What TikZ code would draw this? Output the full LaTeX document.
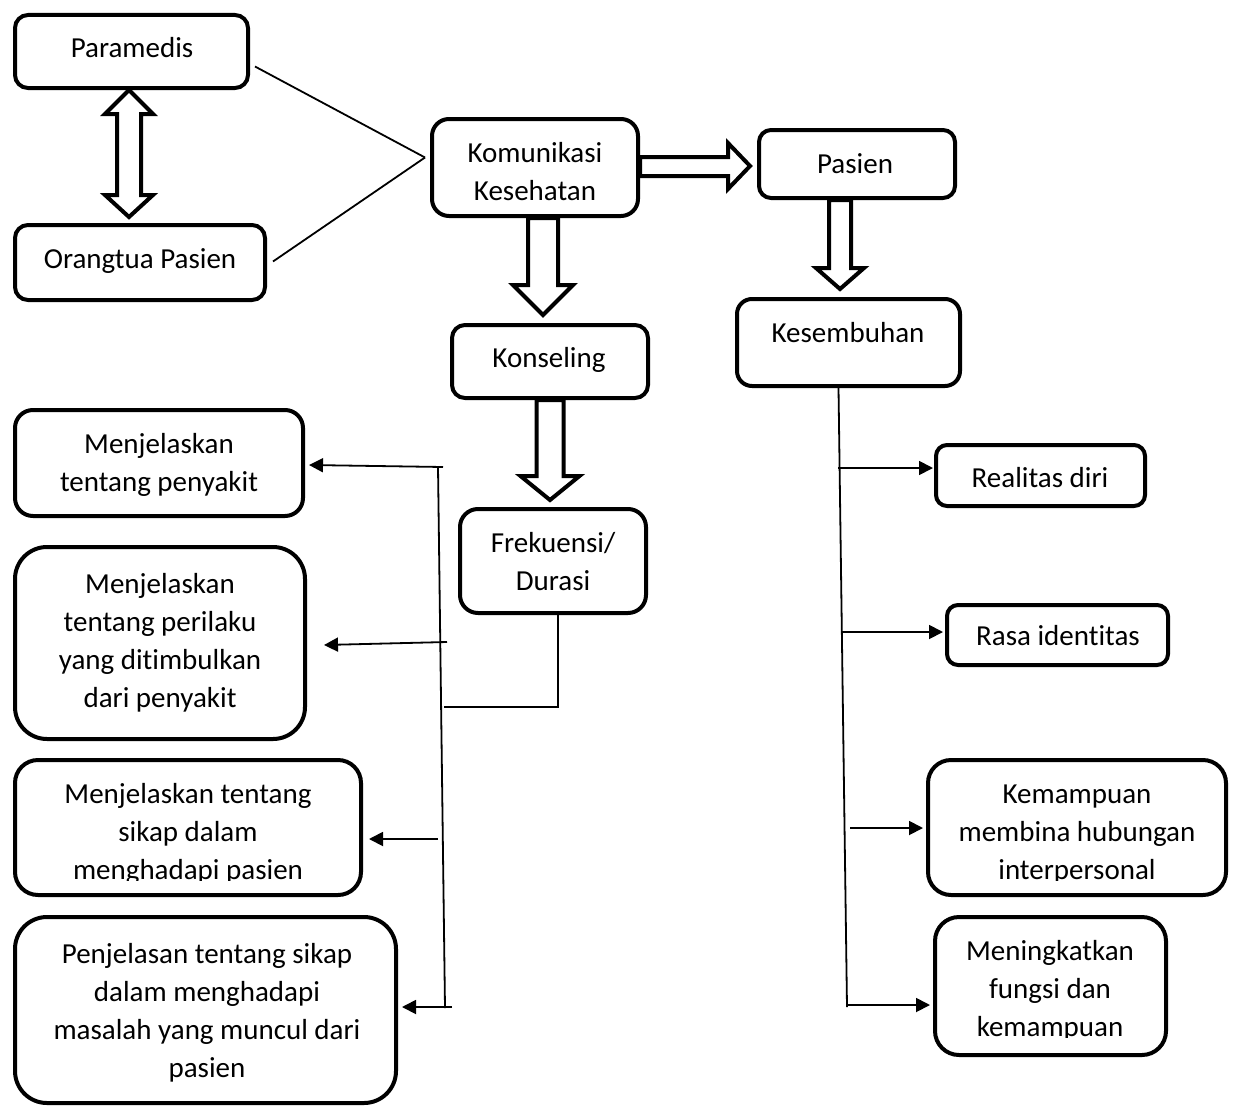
\documentclass[tikz,border=0pt]{standalone}
\usepackage{fontspec}
\setmainfont{Carlito}[Ligatures={NoCommon}]
\usetikzlibrary{arrows.meta,calc}
\tikzset{
  box/.style={draw, line width=4pt, rectangle, inner sep=0pt},
  txt/.style={font=\fontsize{29}{38}\selectfont, text width=400pt, align=flush center, anchor=base, inner sep=0pt},
  blk/.style={draw, fill=white, line width=4pt, line join=miter},
  thin/.style={line width=1.8pt},
  arr/.style={line width=1.8pt, -{Triangle[length=14pt,width=14pt]}},
}
% vertical block arrow: src, dst, centre x, shaft half, head half, head length, tip gap
\newcommand\blkdown[7]{%
  \draw[blk] let \p1=(#1.south), \p2=(#2.north) in
    (#3pt-#4pt,\y1) -- (#3pt-#4pt,\y2+#7pt+#6pt) -- (#3pt-#5pt,\y2+#7pt+#6pt)
    -- (#3pt,\y2+#7pt) -- (#3pt+#5pt,\y2+#7pt+#6pt) -- (#3pt+#4pt,\y2+#7pt+#6pt)
    -- (#3pt+#4pt,\y1) -- cycle;}
\begin{document}
\begin{tikzpicture}[x=1pt,y=-1pt]
\path[use as bounding box, fill=white] (0,0) rectangle (1236,1108);

% boxes
\node[box, minimum width=233pt, minimum height=73pt, rounded corners=13pt] (par) at (131.5,51.5) {};
\node[box, minimum width=250pt, minimum height=75pt, rounded corners=13pt] (ort) at (140,262.5) {};
\node[box, minimum width=206pt, minimum height=97pt, rounded corners=17pt] (kom) at (535,167.5) {};
\node[box, minimum width=196pt, minimum height=68pt, rounded corners=12pt] (pas) at (857,164) {};
\node[box, minimum width=223pt, minimum height=87pt, rounded corners=15pt] (kes) at (848.5,342.5) {};
\node[box, minimum width=196pt, minimum height=73pt, rounded corners=13pt] (kon) at (550,361.5) {};
\node[box, minimum width=186pt, minimum height=104pt, rounded corners=18pt] (frek) at (553,561) {};
\node[box, minimum width=288pt, minimum height=106pt, rounded corners=18pt] (pny) at (159,463) {};
\node[box, minimum width=290pt, minimum height=192pt, rounded corners=32pt] (prl) at (160,643) {};
\node[box, minimum width=346pt, minimum height=135pt, rounded corners=23pt] (skp) at (188,827.5) {};
\node[box, minimum width=381pt, minimum height=186pt, rounded corners=32pt] (pjl) at (205.5,1010) {};
\node[box, minimum width=209pt, minimum height=61pt, rounded corners=11pt] (rd) at (1040.5,475.5) {};
\node[box, minimum width=221pt, minimum height=60pt, rounded corners=11pt] (ri) at (1057.5,635) {};
\node[box, minimum width=298pt, minimum height=135pt, rounded corners=23pt] (kmp) at (1077,827.5) {};
\node[box, minimum width=231pt, minimum height=138pt, rounded corners=24pt] (mnk) at (1050.5,986) {};

% texts
\node[txt] (tpar) at (132,57) {Paramedis};
\node[txt] (tort) at (140,268) {Orangtua Pasien};
\node[txt] (tkom) at (535,162) {Komunikasi\\Kesehatan};
\node[txt] (tpas) at (855,173) {Pasien};
\node[txt] (tkes) at (848,342) {Kesembuhan};
\node[txt] (tkon) at (549,367) {Konseling};
\node[txt] (tfrek) at (553,552) {Frekuensi/\\Durasi};
\node[txt] (tpny) at (159,453) {Menjelaskan\\tentang penyakit};
\node[txt] (tprl) at (160,593) {Menjelaskan\\tentang perilaku\\yang ditimbulkan\\dari penyakit};
\begin{scope}
  \clip (0,700) rectangle (420,880);
  \node[txt] (tskp) at (188,803) {Menjelaskan tentang\\sikap dalam\\menghadapi pasien};
\end{scope}
\node[txt] (tpjl) at (207,963) {Penjelasan tentang sikap\\dalam menghadapi\\masalah yang muncul dari\\pasien};
\node[txt] (trd) at (1040,487) {Realitas diri};
\node[txt] (tri) at (1058,645) {Rasa identitas};
\begin{scope}
  \clip (900,700) rectangle (1236,880);
  \node[txt] (tkmp) at (1077,803) {Kemampuan\\membina hubungan\\interpersonal};
\end{scope}
\begin{scope}
  \clip (900,900) rectangle (1236,1037);
  \node[txt] (tmnk) at (1050,960) {Meningkatkan\\fungsi dan\\kemampuan};
\end{scope}

% block arrows
\draw[blk] let \p1=(par.south), \p2=(ort.north) in
  (129pt,\y1) -- (153pt,\y1-24pt) -- (141pt,\y1-24pt) -- (141pt,\y2+28pt)
  -- (153pt,\y2+28pt) -- (129pt,\y2+6pt) -- (105pt,\y2+28pt) -- (117pt,\y2+28pt)
  -- (117pt,\y1-24pt) -- (105pt,\y1-24pt) -- cycle;
\draw[blk] let \p1=(kom.east), \p2=(pas.west) in
  (\x1,-157pt) -- (\x2-29pt,-157pt) -- (\x2-29pt,-143pt) -- (\x2-7pt,-166pt)
  -- (\x2-29pt,-189pt) -- (\x2-29pt,-176pt) -- (\x1,-176pt) -- cycle;
\blkdown{kom}{kon}{543}{15}{30}{30}{8}
\blkdown{kon}{frek}{550}{13.5}{29.5}{24}{7}
\blkdown{pas}{kes}{840}{11}{24}{21}{8}

% lines to Komunikasi
\coordinate (meet) at ($(kom.west)+(-5,-10)$);
\draw[thin] ($(par.east)+(5,15)$) -- (meet);
\draw[thin] ($(ort.east)+(6,-1)$) -- (meet);

% left bus
\coordinate (lbT) at (438,467);
\coordinate (lbB) at (445,1008);
\coordinate (lbH) at (444,707);
\draw[thin] (lbT) -- (lbB);
\draw[thin] ($(frek.south)+(5,0)$) |- (lbH);
\coordinate (la1) at (443,467);
\coordinate (la2) at (447,642);
\coordinate (la3) at (438,839);
\coordinate (la4) at (452,1007);
\draw[arr] (la1) -- ($(pny.east)+(4,2)$);
\draw[arr] (la2) -- ($(prl.east)+(17,2)$);
\draw[arr] (la3) -- ($(skp.east)+(6,11.5)$);
\draw[arr] (la4) -- ($(pjl.east)+(4,-3)$);

% right bus
\coordinate (rbT) at ($(kes.south)+(-10,0)$);
\coordinate (rbB) at (847,1007);
\draw[thin] (rbT) -- (rbB);
\coordinate (ra1) at (838,468);
\coordinate (ra2) at (843,632);
\coordinate (ra3) at (850,828);
\coordinate (ra4) at (847,1005);
\draw[arr] (ra1) -- ($(rd.west)+(-1,-7.5)$);
\draw[arr] (ra2) -- ($(ri.west)+(-2,-3)$);
\draw[arr] (ra3) -- ($(kmp.west)+(-3,0.5)$);
\draw[arr] (ra4) -- ($(mnk.west)+(-3,19)$);
\end{tikzpicture}
\end{document}
